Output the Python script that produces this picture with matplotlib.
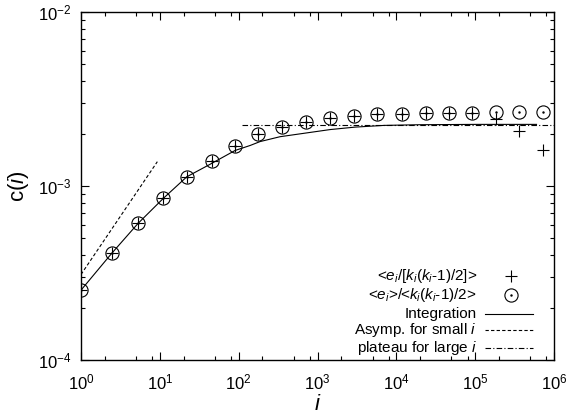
import matplotlib
matplotlib.use("Agg")
import matplotlib.pyplot as plt
from matplotlib.ticker import LogLocator, NullFormatter

plt.rcParams['font.family'] = ['Liberation Sans', 'DejaVu Sans']
plt.rcParams['mathtext.fontset'] = 'custom'
plt.rcParams['mathtext.rm'] = 'Liberation Sans'
plt.rcParams['mathtext.it'] = 'Liberation Sans:italic'
plt.rcParams['mathtext.default'] = 'regular'

# data
i_pts = [1, 2.45, 5.3, 11.1, 22.3, 45.6, 91, 178, 359, 716, 1445, 2890,
         5700, 11700, 23600, 46800, 91600, 183000, 358000, 730000]
c_plus = [2.52e-4, 4.1e-4, 6.1e-4, 8.5e-4, 1.12e-3, 1.40e-3, 1.70e-3, 1.99e-3,
          2.19e-3, 2.34e-3, 2.47e-3, 2.53e-3, 2.58e-3, 2.60e-3, 2.63e-3, 2.63e-3,
          2.64e-3, 2.43e-3, 2.07e-3, 1.60e-3]
c_circ = [2.52e-4, 4.1e-4, 6.1e-4, 8.5e-4, 1.12e-3, 1.40e-3, 1.70e-3, 1.99e-3,
          2.19e-3, 2.34e-3, 2.47e-3, 2.53e-3, 2.58e-3, 2.60e-3, 2.63e-3, 2.63e-3,
          2.64e-3, 2.65e-3, 2.65e-3, 2.65e-3]

i_int = [1, 2.45, 5.3, 11.1, 22, 43, 90, 140, 187, 335, 1445, 3000, 7000,
         20000, 100000, 600000]
c_int = [2.52e-4, 4.1e-4, 6.1e-4, 8.5e-4, 1.13e-3, 1.33e-3, 1.60e-3, 1.71e-3,
         1.80e-3, 1.92e-3, 2.11e-3, 2.18e-3, 2.23e-3, 2.25e-3, 2.26e-3, 2.26e-3]

i_asym = [1, 9.3]
c_asym = [3.1e-4, 1.38e-3]

i_plat = [110, 1e6]
c_plat = [2.25e-3, 2.25e-3]

fig = plt.figure(figsize=(5.68, 4.16), dpi=100)
ax = fig.add_axes([81/568, 56/416, 473/568, 348/416])

lw = 0.8
ax.plot(i_pts, c_plus, ls='none', marker='+', ms=9, mew=0.8, color='black')
ax.plot(i_pts, c_circ, ls='none', marker='o', ms=9.5, mew=0.8, mfc='none', color='black')
ax.plot(i_pts, c_circ, ls='none', marker='.', ms=1.5, color='black')
ax.plot(i_int, c_int, ls='-', lw=lw, color='black')
ax.plot(i_asym, c_asym, ls=(0, (3, 2)), lw=lw, color='black')
ax.plot(i_plat, c_plat, ls=(0, (5, 2, 1, 2)), lw=lw, color='black')

ax.set_xscale('log')
ax.set_yscale('log')
ax.set_xlim(1, 1e6)
ax.set_ylim(1e-4, 1e-2)

ax.xaxis.set_major_locator(LogLocator(base=10, numticks=10))
ax.xaxis.set_minor_locator(LogLocator(base=10, subs=(2, 5, 8), numticks=20))
ax.yaxis.set_minor_locator(LogLocator(base=10, subs=range(2, 10), numticks=20))
ax.xaxis.set_minor_formatter(NullFormatter())
ax.yaxis.set_minor_formatter(NullFormatter())

ax.tick_params(which='both', direction='in', top=True, right=True, width=0.8)
ax.tick_params(which='major', length=6, labelsize=12)
ax.tick_params(axis='x', which='major', pad=9)
ax.tick_params(axis='y', which='major', pad=7)
ax.tick_params(which='minor', length=3)
for s in ax.spines.values():
    s.set_linewidth(1.0)

ax.set_xlabel(r'$\mathit{i}$', fontsize=16, labelpad=1)
ax.set_ylabel(r'c($\mathit{i}$)', fontsize=16, labelpad=5)

# legend drawn by hand, gnuplot style
tx = 0.837
fs = 11
rows = [
    (0.240, r'<$\mathit{e_i}$/[$\mathit{k_i}$($\mathit{k_i}$-1)/2]>', 'plus'),
    (0.188, r'<$\mathit{e_i}$>/<$\mathit{k_i}$($\mathit{k_i}$-1)/2>', 'circ'),
    (0.133, 'Integration', '-'),
    (0.085, r'Asymp. for small $\mathit{i}$', 'dash'),
    (0.035, r'plateau for large $\mathit{i}$', 'dashdot'),
]
for y, label, kind in rows:
    ax.text(tx, y, label, transform=ax.transAxes, ha='right', va='center', fontsize=fs)
    if kind == 'plus':
        ax.plot([0.909], [y], transform=ax.transAxes, marker='+', ms=9, mew=0.8, color='black')
    elif kind == 'circ':
        ax.plot([0.909], [y], transform=ax.transAxes, marker='o', ms=9.5, mew=0.8, mfc='none', color='black')
        ax.plot([0.909], [y], transform=ax.transAxes, marker='.', ms=1.5, color='black')
    else:
        ls = {'-': '-', 'dash': (0, (3, 2)), 'dashdot': (0, (5, 2, 1, 2))}[kind]
        ax.plot([0.854, 0.956], [y, y], transform=ax.transAxes, ls=ls, lw=lw, color='black')

fig.savefig('out.png', dpi=100)
